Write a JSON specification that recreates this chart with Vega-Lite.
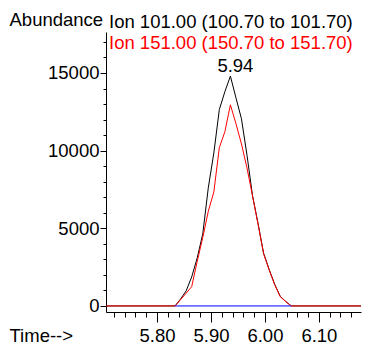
{
  "$schema": "https://vega.github.io/schema/vega-lite/v6.json",
  "width": 255,
  "height": 280,
  "autosize": {"type": "none"},
  "padding": {"left": 106, "top": 32, "right": 5, "bottom": 33},
  "background": "white",
  "config": {
    "view": {"stroke": null},
    "font": "Liberation Sans",
    "axis": {"grid": false, "domainColor": "black", "tickColor": "black", "labelColor": "black", "titleColor": "black", "labelFontSize": 18.5, "titleFontSize": 18.5, "titleFontWeight": "normal", "labelFont": "Liberation Sans", "titleFont": "Liberation Sans", "labelOverlap": false, "labelFlush": false}
  },
  "title": {
    "text": "Ion 101.00 (100.70 to 101.70)",
    "subtitle": "Ion 151.00 (150.70 to 151.70)",
    "anchor": "start",
    "frame": "group",
    "orient": "top",
    "offset": -42,
    "dx": 3,
    "font": "Liberation Sans",
    "fontSize": 18.5,
    "fontWeight": "normal",
    "color": "black",
    "subtitleFont": "Liberation Sans",
    "subtitleFontSize": 18.5,
    "subtitleColor": "red",
    "subtitlePadding": 2
  },
  "datasets": {
    "scans": [
      {"t": 5.7055, "abundance": 0, "ion": "101"},
      {"t": 5.8335, "abundance": 0, "ion": "101"},
      {"t": 5.8438, "abundance": 450, "ion": "101"},
      {"t": 5.8540, "abundance": 970, "ion": "101"},
      {"t": 5.8643, "abundance": 1870, "ion": "101"},
      {"t": 5.8745, "abundance": 3090, "ion": "101"},
      {"t": 5.8848, "abundance": 4640, "ion": "101"},
      {"t": 5.8950, "abundance": 7600, "ion": "101"},
      {"t": 5.9053, "abundance": 9850, "ion": "101"},
      {"t": 5.9155, "abundance": 12650, "ion": "101"},
      {"t": 5.9258, "abundance": 13800, "ion": "101"},
      {"t": 5.9360, "abundance": 14800, "ion": "101"},
      {"t": 5.9463, "abundance": 13400, "ion": "101"},
      {"t": 5.9565, "abundance": 12050, "ion": "101"},
      {"t": 5.9668, "abundance": 9700, "ion": "101"},
      {"t": 5.9770, "abundance": 7100, "ion": "101"},
      {"t": 5.9873, "abundance": 5300, "ion": "101"},
      {"t": 5.9975, "abundance": 3400, "ion": "101"},
      {"t": 6.0078, "abundance": 2350, "ion": "101"},
      {"t": 6.0180, "abundance": 1400, "ion": "101"},
      {"t": 6.0283, "abundance": 620, "ion": "101"},
      {"t": 6.0385, "abundance": 290, "ion": "101"},
      {"t": 6.0488, "abundance": 0, "ion": "101"},
      {"t": 6.1780, "abundance": 0, "ion": "101"},
      {"t": 5.7055, "abundance": 0, "ion": "151"},
      {"t": 5.8335, "abundance": 0, "ion": "151"},
      {"t": 5.8438, "abundance": 410, "ion": "151"},
      {"t": 5.8540, "abundance": 820, "ion": "151"},
      {"t": 5.8643, "abundance": 1240, "ion": "151"},
      {"t": 5.8745, "abundance": 2870, "ion": "151"},
      {"t": 5.8848, "abundance": 4400, "ion": "151"},
      {"t": 5.8950, "abundance": 6090, "ion": "151"},
      {"t": 5.9053, "abundance": 7340, "ion": "151"},
      {"t": 5.9155, "abundance": 10200, "ion": "151"},
      {"t": 5.9258, "abundance": 11220, "ion": "151"},
      {"t": 5.9360, "abundance": 12950, "ion": "151"},
      {"t": 5.9463, "abundance": 11740, "ion": "151"},
      {"t": 5.9565, "abundance": 10430, "ion": "151"},
      {"t": 5.9668, "abundance": 8880, "ion": "151"},
      {"t": 5.9770, "abundance": 7080, "ion": "151"},
      {"t": 5.9873, "abundance": 5250, "ion": "151"},
      {"t": 5.9975, "abundance": 3360, "ion": "151"},
      {"t": 6.0078, "abundance": 2320, "ion": "151"},
      {"t": 6.0180, "abundance": 1370, "ion": "151"},
      {"t": 6.0283, "abundance": 600, "ion": "151"},
      {"t": 6.0385, "abundance": 280, "ion": "151"},
      {"t": 6.0488, "abundance": 0, "ion": "151"},
      {"t": 6.1780, "abundance": 0, "ion": "151"},
      {"t": 5.8335, "abundance": 0, "ion": "baseline"},
      {"t": 6.0488, "abundance": 0, "ion": "baseline"}
    ],
    "peaks": [
      {"t": 5.9360, "abundance": 14800, "label": "5.94"}
    ]
  },
  "encoding": {
    "x": {
      "field": "t",
      "type": "quantitative",
      "scale": {"domain": [5.7055, 6.178], "nice": false, "zero": false},
      "axis": {
        "values": [5.72, 5.74, 5.76, 5.78, 5.80, 5.82, 5.84, 5.86, 5.88, 5.90, 5.92, 5.94, 5.96, 5.98, 6.00, 6.02, 6.04, 6.06, 6.08, 6.10, 6.12, 6.14, 6.16],
        "format": ".2f",
        "labelExpr": "abs(datum.value*10 - round(datum.value*10)) < 0.001 ? datum.label : ''",
        "tickSize": {"condition": {"test": "abs(datum.value*10 - round(datum.value*10)) < 0.001", "value": 10}, "value": 5},
        "labelPadding": 4,
        "title": "Time-->",
        "titleX": -97,
        "titleY": 29,
        "titleAlign": "left",
        "titleBaseline": "alphabetic",
        "titleAngle": 0
      }
    },
    "y": {
      "field": "abundance",
      "type": "quantitative",
      "scale": {"domain": [-390, 17640], "nice": false, "zero": false},
      "axis": {
        "values": [0, 1000, 2000, 3000, 4000, 5000, 6000, 7000, 8000, 9000, 10000, 11000, 12000, 13000, 14000, 15000, 16000, 17000],
        "format": "d",
        "labelExpr": "datum.value % 5000 === 0 ? datum.label : ''",
        "tickSize": {"condition": {"test": "datum.value % 5000 === 0", "value": 6}, "value": 3},
        "labelPadding": 1,
        "title": "Abundance",
        "titleAngle": 0,
        "titleX": -97,
        "titleY": -7,
        "titleAlign": "left",
        "titleBaseline": "alphabetic"
      }
    }
  },
  "layer": [
    {
      "data": {"name": "scans"},
      "transform": [{"filter": "datum.ion === '101'"}],
      "mark": {"type": "line", "color": "black", "strokeWidth": 1}
    },
    {
      "data": {"name": "scans"},
      "transform": [{"filter": "datum.ion === '151'"}],
      "mark": {"type": "line", "color": "#ff0000", "strokeWidth": 1}
    },
    {
      "data": {"name": "scans"},
      "transform": [{"filter": "datum.ion === 'baseline'"}],
      "mark": {"type": "line", "color": "#0000ff", "strokeWidth": 1}
    },
    {
      "data": {"name": "peaks"},
      "mark": {"type": "text", "fontSize": 18.5, "font": "Liberation Sans", "color": "black", "align": "center", "baseline": "alphabetic", "dx": 5, "dy": -4.5},
      "encoding": {"text": {"field": "label"}}
    }
  ]
}
